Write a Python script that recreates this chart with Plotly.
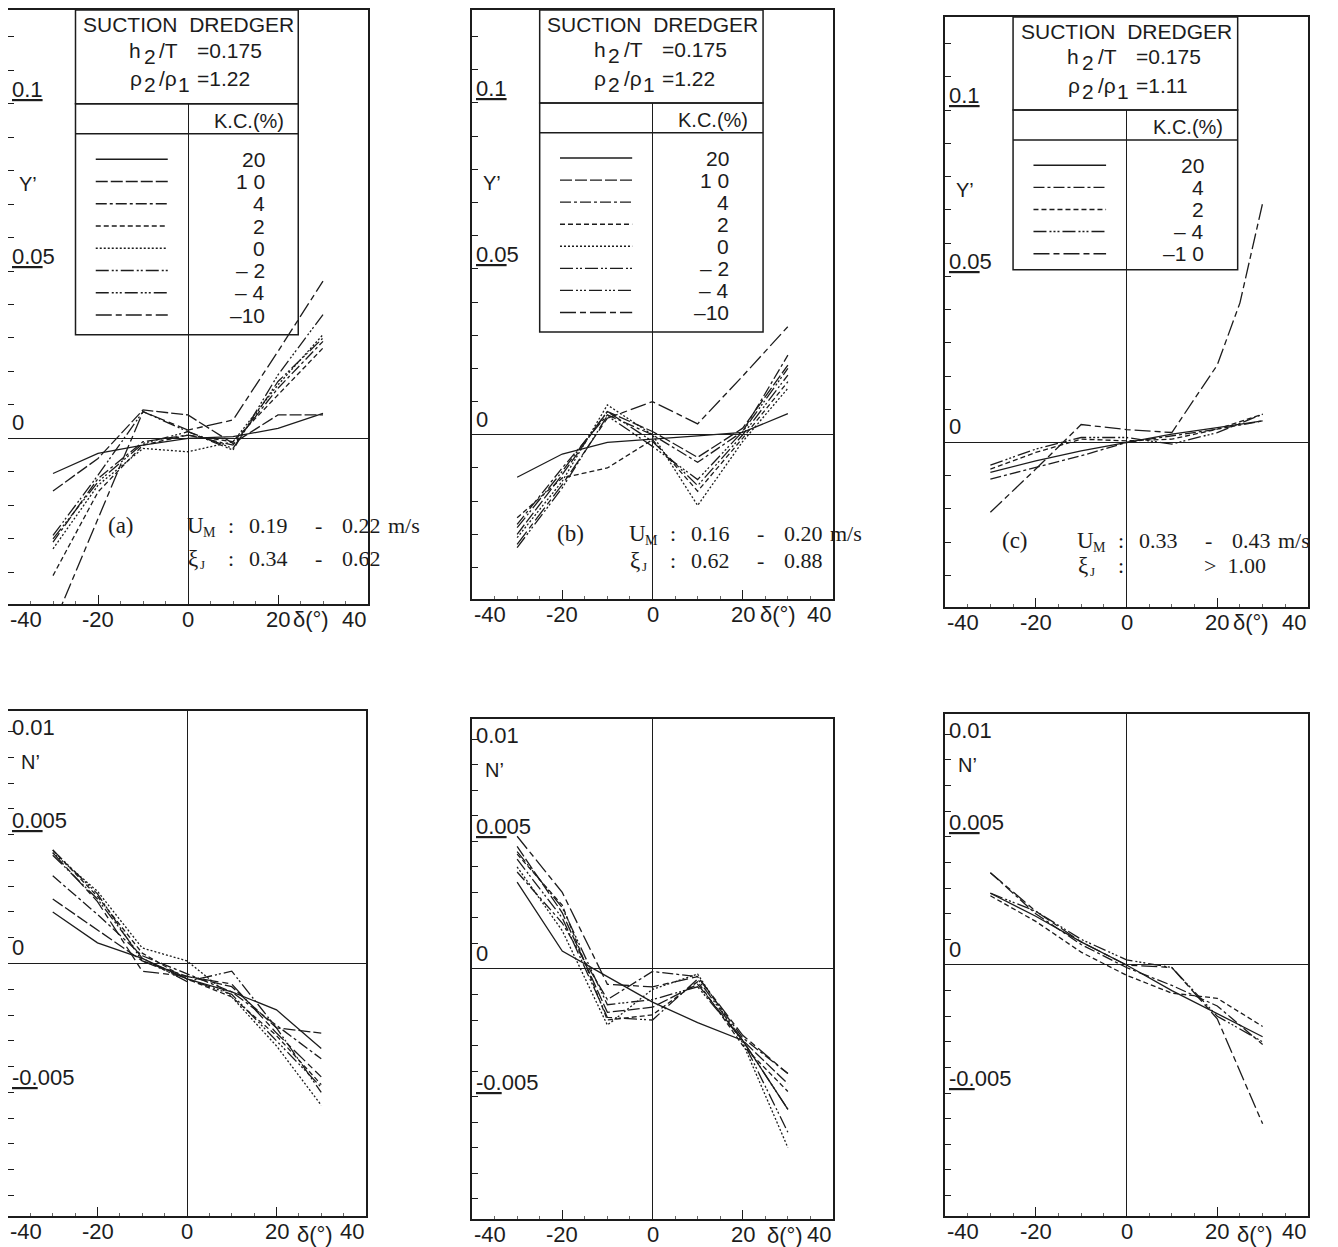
import plotly.graph_objects as go

W, H = 1338, 1247
OFF = 8  # the page body adds an 8 px margin; frames are placed relative to it

# ---------------- data ----------------
DELTA = [-30, -20, -10, 0, 10, 20, 30]
DELTA_C_STEEP = [-30, -20, -10, 0, 10, 20, 25, 30]

KC8 = ["20", "10", "4", "2", "0", "-2", "-4", "-10"]
KC5 = ["20", "4", "2", "-4", "-10"]
KC8_LABELS = ["20", "1 0", "4", "2", "0", "\u2013 2", "\u2013 4", "\u201310"]
KC5_LABELS = ["20", "4", "2", "\u2013 4", "\u20131 0"]

# Y' panel (a)
YA = {
    "20": [-0.0105, -0.0045, -0.0020, 0.0000, 0.0005, 0.0030, 0.0075],
    "10": [-0.0157, -0.0060, 0.0085, 0.0070, -0.0015, 0.0070, 0.0070],
    "4": [-0.0310, -0.0120, -0.0010, 0.0010, -0.0020, 0.0150, 0.0290],
    "2": [-0.0410, -0.0160, -0.0020, 0.0010, -0.0010, 0.0130, 0.0270],
    "0": [-0.0330, -0.0140, -0.0030, -0.0040, -0.0010, 0.0160, 0.0310],
    "-2": [-0.0290, -0.0110, 0.0080, 0.0020, -0.0030, 0.0170, 0.0300],
    "-4": [-0.0300, -0.0130, -0.0015, 0.0020, -0.0035, 0.0190, 0.0370],
    "-10": [-0.0560, -0.0240, 0.0080, 0.0025, 0.0055, 0.0260, 0.0470],
}
# Y' panel (b)
YB = {
    "20": [-0.0128, -0.0058, -0.0023, -0.0012, -0.0003, 0.0007, 0.0064],
    "10": [-0.0300, -0.0120, 0.0070, 0.0010, -0.0068, 0.0020, 0.0210],
    "4": [-0.0270, -0.0100, 0.0060, 0.0000, -0.0083, 0.0010, 0.0240],
    "2": [-0.0250, -0.0130, -0.0100, -0.0015, -0.0170, -0.0010, 0.0160],
    "0": [-0.0310, -0.0140, 0.0090, 0.0000, -0.0213, -0.0020, 0.0140],
    "-2": [-0.0280, -0.0110, 0.0070, -0.0020, -0.0153, 0.0000, 0.0180],
    "-4": [-0.0340, -0.0160, 0.0057, -0.0035, -0.0135, 0.0010, 0.0200],
    "-10": [-0.0330, -0.0150, 0.0050, 0.0100, 0.0033, 0.0177, 0.0326],
}
# Y' panel (c)
YC = {
    "20": [-0.0090, -0.0055, -0.0025, 0.0000, 0.0025, 0.0045, 0.0065],
    "4": [-0.0110, -0.0075, -0.0040, 0.0000, 0.0020, 0.0040, 0.0065],
    "2": [-0.0080, -0.0030, 0.0010, 0.0005, 0.0010, 0.0040, 0.0085],
    "-4": [-0.0068, -0.0020, 0.0015, 0.0015, -0.0005, 0.0030, 0.0085],
}
YC_STEEP = [-0.0210, -0.0080, 0.0054, 0.0039, 0.0030, 0.0233, 0.0420, 0.0720]

# N' panel (a)
NA = {
    "20": [0.0020, 0.0008, 0.0002, -0.0006, -0.0011, -0.0018, -0.0033],
    "10": [0.0025, 0.0013, 0.0001, -0.0005, -0.0009, -0.0025, -0.0027],
    "4": [0.0034, 0.0019, 0.0003, -0.0004, -0.0011, -0.0024, -0.0037],
    "2": [0.0044, 0.0026, 0.0004, -0.0006, -0.0013, -0.0028, -0.0047],
    "0": [0.0043, 0.0028, 0.0006, 0.0001, -0.0013, -0.0032, -0.0055],
    "-2": [0.0042, 0.0025, 0.0002, -0.0007, -0.0003, -0.0025, -0.0050],
    "-4": [0.0044, 0.0027, 0.0001, -0.0006, -0.0012, -0.0030, -0.0048],
    "-10": [0.0043, 0.0024, -0.0003, -0.0005, -0.0008, -0.0027, -0.0044],
}
# N' panel (b)
NB = {
    "20": [0.0034, 0.0007, -0.0003, -0.0013, -0.0021, -0.0028, -0.0055],
    "10": [0.0048, 0.0022, -0.0017, -0.0015, -0.0006, -0.0028, -0.0045],
    "4": [0.0038, 0.0018, -0.0012, -0.0001, -0.0003, -0.0027, -0.0041],
    "2": [0.0045, 0.0025, -0.0020, -0.0018, -0.0005, -0.0030, -0.0048],
    "0": [0.0040, 0.0015, -0.0022, -0.0008, -0.0002, -0.0029, -0.0070],
    "-2": [0.0043, 0.0020, -0.0019, -0.0020, -0.0004, -0.0028, -0.0064],
    "-4": [0.0046, 0.0024, -0.0014, -0.0012, -0.0007, -0.0028, -0.0055],
    "-10": [0.0052, 0.0030, -0.0006, -0.0007, -0.0003, -0.0026, -0.0041],
}
# N' panel (c)
NC = {
    "20": [0.0028, 0.0019, 0.0009, 0.0000, -0.0010, -0.0019, -0.0028],
    "4": [0.0036, 0.0020, 0.0008, -0.0001, -0.0008, -0.0016, -0.0031],
    "2": [0.0027, 0.0017, 0.0005, -0.0004, -0.0011, -0.0013, -0.0024],
    "-4": [0.0028, 0.0021, 0.0010, 0.0002, -0.0001, -0.0020, -0.0030],
    "-10": [0.0036, 0.0021, 0.0009, 0.0000, -0.0001, -0.0021, -0.0062],
}

# ---------------- styles ----------------
DASH = {
    "20": "solid",
    "10": "12px,3px",
    "4": "11px,3px,3px,3px",
    "2": "5px,3px",
    "0": "2px,2px",
    "-2": "13px,3px,2px,2px,2px,3px",
    "-4": "13px,3px,2px,2px,2px,2px,2px,3px",
    "-10": "16px,4px,6px,4px",
}
INK = "#1c1c1c"
SANS = "Liberation Sans, Arial, sans-serif"
SERIF = "Liberation Serif, Times New Roman, serif"
TOP_RANGE = [-0.0495, 0.128]
BOT_RANGE = [-0.0098, 0.0098]

# frames on screen (left, top, right, bottom), px
BOXES = [
    (8, 8, 368, 603), (472, 8, 833, 598), (945, 15, 1308, 606),
    (7, 710, 366, 1216), (472, 718, 833, 1219), (945, 713, 1308, 1216),
]

fig = go.Figure()
annotations = []
shapes = []


def refs(i):
    return ("x" if i == 1 else f"x{i}"), ("y" if i == 1 else f"y{i}")


def ann(i, x, y, text, size=22, xa="center", ya="middle", font=SANS, **kw):
    xr, yr = refs(i)
    annotations.append(dict(x=x, y=y, xref=xr, yref=yr, text=text, showarrow=False,
                            xanchor=xa, yanchor=ya,
                            font=dict(family=font, size=size, color=INK), **kw))


def pann(px, py, text, size=22, xa="left", font=SERIF):
    """text placed at a screen pixel position (paper coordinates)"""
    annotations.append(dict(x=(px - OFF) / W, y=1 - (py - OFF) / H, xref="paper", yref="paper",
                            text=text, showarrow=False, xanchor=xa, yanchor="middle",
                            font=dict(family=font, size=size, color=INK)))


def add_axes(i, top):
    l, t, r, b = [v - OFF for v in BOXES[i - 1]]
    xd = [max(l, 0) / W, r / W]
    yd = [1 - b / H, 1 - max(t, 0) / H]
    xr, yr = refs(i)
    xname = "xaxis" if i == 1 else f"xaxis{i}"
    yname = "yaxis" if i == 1 else f"yaxis{i}"
    if top:
        yt = [round(-0.04 + 0.01 * k, 3) for k in range(17)]
        rng = TOP_RANGE
    else:
        yt = [round(-0.009 + 0.001 * k, 4) for k in range(19)]
        rng = BOT_RANGE
    fig.update_layout(**{
        xname: dict(domain=xd, range=[-40, 40], anchor=yr, showgrid=False,
                    showline=True, mirror=True, linecolor=INK, linewidth=1.6,
                    zeroline=True, zerolinecolor=INK, zerolinewidth=1.3,
                    ticks="inside", tickvals=[-20, 20], ticklen=9, tickcolor=INK,
                    tickwidth=1.3, showticklabels=False,
                    minor=dict(tickvals=[-35, -30, -25, -15, -10, -5, 5, 10, 15, 25, 30, 35],
                               ticks="inside", ticklen=3, tickcolor="#666", tickwidth=1)),
        yname: dict(domain=yd, range=rng, anchor=xr, showgrid=False,
                    showline=True, mirror=True, linecolor=INK, linewidth=1.6,
                    zeroline=True, zerolinecolor=INK, zerolinewidth=1.3,
                    ticks="inside", tickvals=yt, ticklen=6, tickcolor=INK,
                    tickwidth=1.3, showticklabels=False),
    })


def add_series(i, x, y, kc):
    xr, yr = refs(i)
    fig.add_trace(go.Scatter(x=x, y=y, mode="lines", xaxis=xr, yaxis=yr,
                             line=dict(color=INK, width=1.3, dash=DASH[kc]),
                             showlegend=False, hoverinfo="skip"))


def x_labels(i, delta_x, dshift=-1):
    xr, yr = refs(i)
    yref = yr + " domain"
    for xv, txt, xa in [(-40, "-40", "left"), (-20, "-20", "center"), (0, "0", "center"),
                        (20, "20", "center"), (40, "40", "right")]:
        annotations.append(dict(x=xv, y=0, xref=xr, yref=yref, text=txt, showarrow=False,
                                xanchor=xa, yanchor="top", yshift=-1,
                                font=dict(family=SANS, size=22, color=INK)))
    annotations.append(dict(x=delta_x, y=0, xref=xr, yref=yref, text="\u03b4(\u00b0)",
                            showarrow=False, xanchor="left", yanchor="top", yshift=dshift,
                            font=dict(family=SANS, size=22, color=INK)))


def header_line(i, y, pieces):
    # pieces: (x_left_in_degrees, text, lowered?)
    for xv, txt, low in pieces:
        ann(i, xv, y, txt, size=21, xa="left", yshift=-6 if low else 0)


def table(i, ratio, kcs, labels, bottom):
    xr, yr = refs(i)
    x0, x1 = -25, 24.5
    shapes.append(dict(type="rect", xref=xr, yref=yr, x0=x0, x1=x1, y0=0.1, y1=TOP_RANGE[1],
                       fillcolor="white", line=dict(color=INK, width=1.5), layer="above"))
    shapes.append(dict(type="rect", xref=xr, yref=yr, x0=x0, x1=x1, y0=bottom, y1=0.1,
                       line=dict(color=INK, width=1.5), layer="above"))
    shapes.append(dict(type="line", xref=xr, yref=yr, x0=x0, x1=x1, y0=0.091, y1=0.091,
                       line=dict(color=INK, width=1.5), layer="above"))
    ann(i, 0, 0.1237, "SUCTION\u00a0\u00a0DREDGER", size=21)
    header_line(i, 0.1160, [(-13.5, "h", False), (-10.3, "2", True), (-6.8, "/T", False),
                            (1.6, "=0.175", False)])
    header_line(i, 0.1075, [(-13.3, "\u03c1", False), (-10.3, "2", True),
                            (-6.8, "/\u03c1", False), (-2.6, "1", True),
                            (1.6, "=" + ratio, False)])
    ann(i, 13.5, 0.0948, "K.C.(%)", size=20)
    for k, (kc, lab) in enumerate(zip(kcs, labels)):
        yv = 0.0834 - k * 0.00665
        shapes.append(dict(type="line", xref=xr, yref=yr, x0=-20.5, x1=-4.5, y0=yv, y1=yv,
                           line=dict(color=INK, width=1.4, dash=DASH[kc]), layer="above"))
        ann(i, 17.5, yv, lab, size=21, xa="right")


def y_labels_top(i):
    ann(i, -40, 0.1, "<u>0.1</u>", xa="left", ya="bottom", xshift=2)
    ann(i, -40, 0.05, "<u>0.0</u>5", xa="left", ya="bottom", xshift=2)
    ann(i, -40, 0.0, "0", xa="left", ya="bottom", xshift=2, yshift=1)
    ann(i, -40, -0.05, "-0.05", xa="left", ya="bottom", xshift=2, yshift=3)
    ann(i, -35.5, 0.076, "Y\u2019", size=20)


def y_labels_bot(i):
    ann(i, -40, BOT_RANGE[1], "0.01", xa="left", ya="top", xshift=2, yshift=-2)
    ann(i, -40, 0.005, "<u>0.0</u>05", xa="left", ya="bottom", xshift=2)
    ann(i, -40, 0.0, "0", xa="left", ya="bottom", xshift=2, yshift=1)
    ann(i, -40, -0.005, "<u>-0.</u>005", xa="left", ya="bottom", xshift=2)
    ann(i, -35, 0.0078, "N\u2019", size=20)


def info(tag, tag_px, ux, y1, y2, v1, v2, xi1, xi2):
    """speed / xi block; positions are screen px of the reference picture"""
    pann(tag_px, y1, tag, size=23, xa="center")
    pann(ux, y1, "U", size=23)
    pann(ux + 16, y1 + 7, "M", size=14)
    pann(ux + 46, y1, ":", xa="center")
    pann(ux + 62, y1, v1)
    pann(ux + 133, y1, "-", xa="center")
    pann(ux + 155, y1, v2)
    pann(ux + 201, y1, "m/s")
    pann(ux + 1, y2, "\u03be", size=23)
    pann(ux + 13, y2 + 6, "J", size=13)
    pann(ux + 46, y2, ":", xa="center")
    if xi1:
        pann(ux + 62, y2, xi1)
        pann(ux + 133, y2, "-", xa="center")
        pann(ux + 155, y2, xi2)
    else:
        pann(ux + 127, y2, xi2)


for i in range(1, 7):
    add_axes(i, i <= 3)

# top row
for kc in KC8:
    add_series(1, DELTA, YA[kc], kc)
    add_series(2, DELTA, YB[kc], kc)
for kc in ["20", "4", "2", "-4"]:
    add_series(3, DELTA, YC[kc], kc)
add_series(3, DELTA_C_STEEP, YC_STEEP, "-10")

# bottom row
for kc in KC8:
    add_series(4, DELTA, NA[kc], kc)
    add_series(5, DELTA, NB[kc], kc)
for kc in KC5:
    add_series(6, DELTA, NC[kc], kc)

table(1, "1.22", KC8, KC8_LABELS, 0.031)
table(2, "1.22", KC8, KC8_LABELS, 0.031)
table(3, "1.11", KC5, KC5_LABELS, 0.052)

for i in (1, 2, 3):
    y_labels_top(i)
for i in (4, 5, 6):
    y_labels_bot(i)

x_labels(1, 22.8)
x_labels(2, 23.4)
x_labels(3, 23.1)
x_labels(4, 24.2, dshift=-4)
x_labels(5, 25.0, dshift=-2)
x_labels(6, 24.0, dshift=-4)

info("(a)", 121, 185, 524, 557, "0.19", "0.22", "0.34", "0.62")
info("(b)", 570, 627, 532, 559, "0.16", "0.20", "0.62", "0.88")
info("(c)", 1015, 1075, 539, 564, "0.33", "0.43", None, ">\u00a0\u00a01.00")

fig.update_layout(width=W, height=H, margin=dict(l=0, r=0, t=0, b=0),
                  paper_bgcolor="white", plot_bgcolor="white",
                  annotations=annotations, shapes=shapes, showlegend=False)

fig.write_html("out.html")
